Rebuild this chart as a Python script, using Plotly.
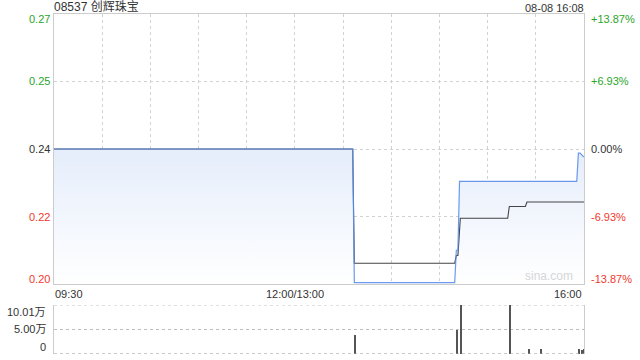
import plotly.graph_objects as go

TITLE = "08537 创辉珠宝"
STAMP = "08-08 16:08"
PREV_CLOSE = 0.24

# minutes since 09:30 (lunch break removed: 150 = 12:00/13:00, 330 = 16:00)
price_min = [0, 186, 187, 249.5, 250.5, 251.5, 252.5, 325.5, 326.5, 327.5, 330]
price_val = [0.24, 0.24, 0.207, 0.207, 0.215, 0.215, 0.232, 0.232, 0.239, 0.239, 0.238]

avg_min = [0, 186, 187, 249.5, 250.5, 251.5, 253, 282.5, 283.5, 293.5, 294.5, 330]
avg_val = [0.24, 0.24, 0.2118, 0.2118, 0.2137, 0.2137, 0.2229, 0.2229, 0.2258, 0.2258, 0.2269, 0.2269]

vol_min = [187.6, 251.1, 253.6, 284.2, 295.6, 303.4, 327.1, 328.6, 330.0]
vol_val = [39200, 49300, 100100, 100000, 9300, 10000, 10000, 9000, 10000]

y_ticks = [0.27333, 0.25667, 0.24, 0.22333, 0.20667]
y_left_text = ["0.27", "0.25", "0.24", "0.22", "0.20"]
y_right_text = ["+13.87%", "+6.93%", "0.00%", "-6.93%", "-13.87%"]
y_colors = ["#2aa52a", "#2aa52a", "#333333", "#f0392e", "#f0392e"]
y_shift = [-5, 0, 0, 0, 5]

x_grid = [30, 60, 90, 120, 150, 180, 210, 240, 270, 300]
x_label_pos = [0, 150, 330]
x_label_text = ["09:30", "12:00/13:00", "16:00"]
x_label_anchor = ["left", "center", "right"]

vol_ticks = [0, 50000, 100100]
vol_text = ["0", "5.00万", "10.01万"]
vol_shift = [6.5, 1, -6.5]

FONT = "Liberation Sans, Arial, Noto Sans CJK SC, sans-serif"
GRID = "#d2d2d2"
BORDER = "#cccccc"

fig = go.Figure()

fig.add_trace(go.Scatter(
    x=price_min, y=price_val, mode="lines", line=dict(width=0),
    fill="tozeroy",
    fillgradient=dict(type="vertical", start=0.2067, stop=0.24,
                      colorscale=[[0, "rgba(255,255,255,1)"], [1, "rgba(229,237,251,1)"]]),
    hoverinfo="skip", showlegend=False, xaxis="x", yaxis="y"))
fig.add_trace(go.Scatter(
    x=avg_min, y=avg_val, mode="lines", line=dict(color="#444444", width=1.1),
    showlegend=False, xaxis="x", yaxis="y"))
fig.add_trace(go.Scatter(
    x=price_min, y=price_val, mode="lines", line=dict(color="#5a8fec", width=1.2),
    opacity=0.9, showlegend=False, xaxis="x", yaxis="y"))
fig.add_trace(go.Bar(
    x=vol_min, y=vol_val, width=0.7, marker=dict(color="#555555", line=dict(width=0)),
    showlegend=False, xaxis="x2", yaxis="y2"))

annotations = []
for v, lt, rt, c, s in zip(y_ticks, y_left_text, y_right_text, y_colors, y_shift):
    annotations.append(dict(x=0, xref="paper", y=v, yref="y", text=lt, showarrow=False,
                            xanchor="right", yanchor="middle", xshift=-2, yshift=s,
                            font=dict(family=FONT, size=11, color=c)))
    annotations.append(dict(x=1, xref="paper", y=v, yref="y", text=rt, showarrow=False,
                            xanchor="left", yanchor="middle", xshift=5, yshift=s,
                            font=dict(family=FONT, size=11, color=c)))
for p, t, a in zip(x_label_pos, x_label_text, x_label_anchor):
    annotations.append(dict(x=p, xref="x", y=0.2059, yref="paper", text=t, showarrow=False,
                            xanchor=a, yanchor="top", yshift=-2, xshift=(-1 if a == "left" else 0),
                            font=dict(family=FONT, size=11, color="#333333")))
for v, t, s in zip(vol_ticks, vol_text, vol_shift):
    annotations.append(dict(x=0, xref="paper", y=v, yref="y2", text=t, showarrow=False,
                            xanchor="right", yanchor="middle", xshift=-6, yshift=s,
                            font=dict(family=FONT, size=11, color="#333333")))
annotations.append(dict(x=0, xref="paper", y=1, yref="paper", text=TITLE, showarrow=False,
                        xanchor="left", yanchor="bottom", xshift=-2, yshift=-2,
                        font=dict(family=FONT, size=12, color="#333333")))
annotations.append(dict(x=1, xref="paper", y=1, yref="paper", text=STAMP, showarrow=False,
                        xanchor="right", yanchor="bottom", xshift=2, yshift=-2,
                        font=dict(family=FONT, size=11, color="#333333")))
annotations.append(dict(x=1, xref="paper", y=0.2059, yref="paper", text="sina.com", showarrow=False,
                        xanchor="right", yanchor="bottom", xshift=-9, yshift=-1,
                        font=dict(family=FONT, size=12, color="#d6d6d6")))

shapes = [
    dict(type="line", xref="x2 domain", yref="y2", x0=0, x1=1, y0=0, y1=0,
         line=dict(color="#9a9a9a", width=1, dash="dot"), layer="above"),
    dict(type="line", xref="x2 domain", yref="y2", x0=0, x1=1, y0=100100, y1=100100,
         line=dict(color="#c4c4c4", width=1, dash="dot"), layer="below"),
]

fig.update_layout(
    width=640, height=360, autosize=False,
    margin=dict(l=54, r=56, t=14, b=6),
    paper_bgcolor="white", plot_bgcolor="white",
    bargap=0,
    annotations=annotations,
    shapes=shapes,
    xaxis=dict(domain=[0, 1], range=[0, 330], tickvals=x_grid, showticklabels=False,
               ticks="", showgrid=True, gridcolor=GRID, griddash="dot", gridwidth=1,
               showline=True, linecolor=BORDER, linewidth=1, mirror=True, zeroline=False,
               anchor="y", fixedrange=True),
    yaxis=dict(domain=[0.2059, 1], range=[0.20667, 0.27333],
               tickvals=y_ticks[1:4], showticklabels=False, ticks="",
               showgrid=True, gridcolor=GRID, griddash="dot", gridwidth=1,
               showline=True, linecolor=BORDER, linewidth=1, mirror=True, zeroline=False,
               anchor="x", fixedrange=True),
    xaxis2=dict(domain=[0, 1], range=[0, 330], showticklabels=False, ticks="",
                showgrid=False, showline=False, zeroline=False, anchor="y2", fixedrange=True),
    yaxis2=dict(domain=[0, 0.1441], range=[0, 100100], tickvals=[50000],
                showticklabels=False, ticks="", showgrid=True, gridcolor="#bdbdbd",
                griddash="dot", gridwidth=1, showline=True, linecolor=BORDER, linewidth=1,
                mirror=True, zeroline=False, anchor="x2", fixedrange=True),
)

fig.write_html("out.html", config={"displayModeBar": False})
